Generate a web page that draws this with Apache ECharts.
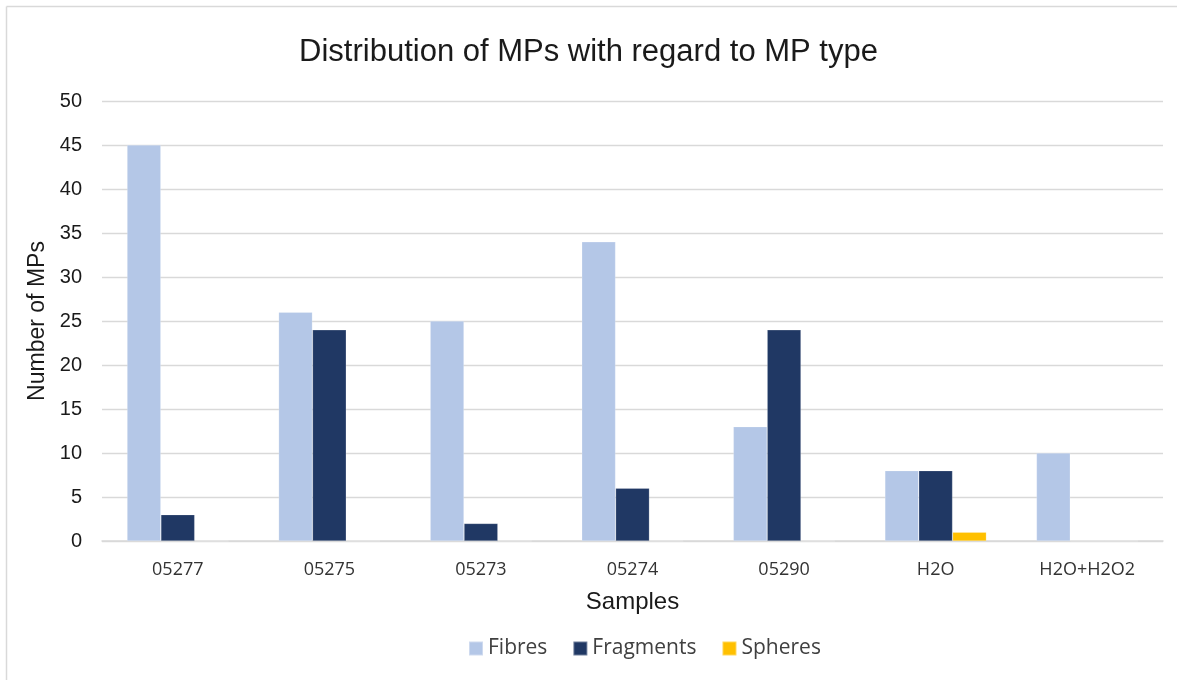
<!DOCTYPE html>
<html>
<head>
<meta charset="utf-8">
<script src="https://cdn.jsdelivr.net/npm/echarts@6/dist/echarts.min.js"></script>
<style>
  html, body { margin: 0; padding: 0; background: #ffffff; }
  #chart { width: 1177px; height: 680px; }
</style>
</head>
<body>
<div id="chart"></div>
<script>
// Sample identifiers along the x axis
const samples = ['05277', '05275', '05273', '05274', '05290', 'H2O', 'H2O+H2O2'];

// Counts of microplastics per type and sample
const fibres    = [45, 26, 25, 34, 13, 8, 10];
const fragments = [3, 24, 2, 6, 24, 8, 0];
const spheres   = [0, 0, 0, 0, 0, 1, 0];

// Y axis range
const yMin = 0;
const yMax = 50;
const yStep = 5;

const chart = echarts.init(document.getElementById('chart'), null, { renderer: 'canvas' });

const sansFont = '"Liberation Sans", Arial, sans-serif';
const labelFont = '"Open Sans", "Noto Sans", sans-serif';

function barSeries(name, data, color) {
  return {
    name: name,
    type: 'bar',
    data: data,
    barGap: '0%',
    barCategoryGap: '33%',
    itemStyle: { color: color, borderColor: 'rgba(255,255,255,0.35)', borderWidth: 0.6 }
  };
}

chart.setOption({
  animation: false,
  backgroundColor: '#ffffff',
  title: {
    text: 'Distribution of MPs with regard to MP type',
    left: 'center',
    top: 32,
    textStyle: { fontFamily: sansFont, fontSize: 31, fontWeight: 'normal', color: '#1a1a1a' }
  },
  grid: { left: 102, right: 14, top: 101, bottom: 139, containLabel: false },
  legend: {
    top: 633,
    left: 463,
    itemWidth: 14,
    itemHeight: 14,
    itemGap: 25,
    icon: 'rect',
    textStyle: { fontFamily: labelFont, fontSize: 21, color: '#404040' },
    data: ['Fibres', 'Fragments', 'Spheres']
  },
  xAxis: {
    type: 'category',
    data: samples,
    name: 'Samples',
    nameLocation: 'middle',
    nameGap: 49,
    nameTextStyle: { fontFamily: sansFont, fontSize: 24, color: '#1a1a1a' },
    axisLine: { lineStyle: { color: '#d9d9d9', width: 1.5 } },
    axisTick: { show: false },
    axisLabel: { fontFamily: labelFont, fontSize: 18, color: '#333333', margin: 20 }
  },
  yAxis: {
    type: 'value',
    min: yMin,
    max: yMax,
    interval: yStep,
    name: 'Number of MPs',
    nameLocation: 'middle',
    nameGap: 42,
    nameTextStyle: { fontFamily: sansFont, fontSize: 23, color: '#1a1a1a' },
    axisLine: { show: false },
    axisTick: { show: false },
    axisLabel: { fontFamily: sansFont, fontSize: 20, color: '#1a1a1a', margin: 20 },
    splitLine: { lineStyle: { color: '#d9d9d9', width: 1.3 } }
  },
  graphic: [
    { type: 'line', shape: { x1: 6.5, y1: 6.5, x2: 1177, y2: 6.5 }, style: { stroke: '#d9d9d9', lineWidth: 1.5 } },
    { type: 'line', shape: { x1: 6.5, y1: 6.5, x2: 6.5, y2: 680 }, style: { stroke: '#d9d9d9', lineWidth: 1.5 } }
  ],
  series: [
    barSeries('Fibres', fibres, '#b4c7e7'),
    barSeries('Fragments', fragments, '#203864'),
    barSeries('Spheres', spheres, '#ffc000')
  ]
});
</script>
</body>
</html>
